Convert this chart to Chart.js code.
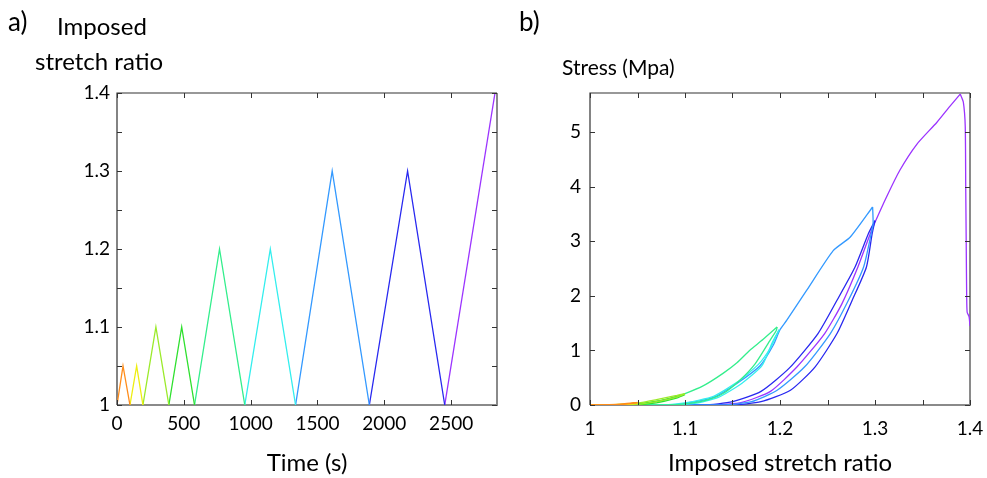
<!DOCTYPE html>
<html><head><meta charset="utf-8">
<script src="https://cdn.jsdelivr.net/npm/chart.js@4/dist/chart.umd.min.js"></script>
<style>
html,body{margin:0;padding:0;background:#fff;width:987px;height:478px;overflow:hidden;font-family:Lato,"Open Sans",sans-serif;}
#c1{position:absolute;left:0;top:0;}
#c2{position:absolute;left:510px;top:0;}
.lbl{position:absolute;color:#000;white-space:nowrap;line-height:1;}
</style></head><body>
<canvas id="c1" width="510" height="478"></canvas>
<canvas id="c2" width="477" height="478"></canvas>
<div class="lbl" style="left:8px;top:8px;font-size:26px;">a)</div>
<div class="lbl" style="left:57px;top:14px;font-size:24px;">Imposed</div>
<div class="lbl" style="left:35px;top:49px;font-size:24px;">stretch ratio</div>
<div class="lbl" style="left:519px;top:8px;font-size:26px;">b)</div>
<div class="lbl" style="left:562px;top:56px;font-size:21px;">Stress (Mpa)</div>
<script>
// ---- panel a: imposed stretch history ----
const timeS = [0,45,97,147,194,291,388,484,580,767,956,1147,1336,1610,1888,2174,2452,2828];
const stretchImposed = [1,1.05,1,1.05,1,1.1,1,1.1,1,1.2,1,1.2,1,1.3,1,1.3,1,1.4];
const cycleColors = ['#FF8C1A','#EEEE10','#9BEA2A','#2EE02E','#33EE8C','#33EEEE','#3399FF','#2828F0','#9B33FF'];
const xTicksA = [0,500,1000,1500,2000,2500];
const yTicksA = [1,1.1,1.2,1.3,1.4];
const yTickMarksA = [1,1.05,1.1,1.15,1.2,1.25,1.3,1.35,1.4];

// ---- panel b: stress vs imposed stretch ratio, per cycle (strain, stress MPa) ----
const c1Load   = [[1.0,0],[1.02,0.005],[1.035,0.02],[1.05,0.05]];
const c1Unload = [[1.05,0.04],[1.04,0.02],[1.03,0.005],[1.015,0],[1.0,0]];
const c2Load   = [[1.0,0],[1.025,0.005],[1.04,0.02],[1.05,0.04]];
const c2Unload = [[1.05,0.03],[1.04,0.01],[1.03,0],[1.0,0]];
const c3Load   = [[1.0,0],[1.02,0],[1.035,0.015],[1.055,0.05],[1.07,0.1],[1.09,0.17],[1.1,0.21]];
const c3Unload = [[1.1,0.2],[1.09,0.14],[1.07,0.06],[1.05,0.01],[1.03,0],[1.0,0]];
const c4Load   = [[1.0,0],[1.03,0],[1.05,0.02],[1.07,0.07],[1.09,0.15],[1.1,0.2]];
const c4Unload = [[1.1,0.19],[1.09,0.12],[1.07,0.04],[1.05,0.005],[1.03,0],[1.0,0]];
const c5Load   = [[1.0,0],[1.05,0.01],[1.08,0.1],[1.1,0.21],[1.12,0.36],[1.14,0.58],[1.155,0.78],[1.168,1.0],[1.182,1.2],[1.197,1.43]];
const c5Unload = [[1.197,1.43],[1.196,1.36],[1.19,1.2],[1.174,0.76],[1.158,0.46],[1.14,0.21],[1.123,0.09],[1.105,0.03],[1.08,0],[1.0,0]];
const c6Load   = [[1.0,0],[1.07,0],[1.1,0.04],[1.13,0.16],[1.155,0.42],[1.177,0.74],[1.19,1.05],[1.199,1.38]];
const c6Unload = [[1.199,1.38],[1.192,1.15],[1.181,0.72],[1.16,0.4],[1.135,0.14],[1.11,0.03],[1.08,0],[1.0,0]];
const c7Load   = [[1.0,0],[1.08,0],[1.1,0.03],[1.13,0.14],[1.155,0.4],[1.179,0.72],[1.193,1.1],[1.2,1.38],[1.207,1.55],[1.228,2.1],[1.256,2.83],[1.274,3.08],[1.2975,3.63]];
const c7Unload = [[1.2975,3.63],[1.298,3.32],[1.296,3.14],[1.288,2.53],[1.272,1.92],[1.253,1.31],[1.226,0.7],[1.197,0.27],[1.17,0.06],[1.14,0],[1.0,0]];
const c8Load   = [[1.0,0],[1.12,0],[1.15,0.06],[1.18,0.25],[1.21,0.68],[1.24,1.31],[1.26,1.92],[1.279,2.53],[1.293,3.14],[1.3,3.38]];
const c8Unload = [[1.3,3.38],[1.297,3.14],[1.291,2.53],[1.276,1.92],[1.26,1.31],[1.237,0.7],[1.211,0.27],[1.18,0.06],[1.15,0],[1.0,0]];
const c9Load   = [[1.0,0],[1.13,0],[1.16,0.05],[1.19,0.25],[1.218,0.7],[1.247,1.31],[1.265,1.85],[1.282,2.53],[1.295,3.14],[1.3,3.35],[1.312,3.81],[1.326,4.3],[1.344,4.78],[1.365,5.18],[1.379,5.48],[1.3897,5.7]];
const c9Fail   = [[1.3897,5.7],[1.393,5.55],[1.395,5.1],[1.3955,4.0],[1.396,3.0],[1.3965,2.0],[1.397,1.7],[1.399,1.62],[1.4,1.45]];
const xTicksB = [1,1.1,1.2,1.3,1.4];
const xTickMarksB = [1,1.05,1.1,1.15,1.2,1.25,1.3,1.35,1.4];
const yTicksB = [0,1,2,3,4,5];

const curvesB = [
  [c1Load,0],[c1Unload,0],[c2Load,1],[c2Unload,1],[c3Load,2],[c3Unload,2],[c4Load,3],[c4Unload,3],
  [c5Load,4],[c5Unload,4],[c6Load,5],[c6Unload,5],[c7Load,6],[c7Unload,6],[c8Load,7],[c8Unload,7],
  [c9Load,8],[c9Fail,8]
];

const FONT = {family:'Lato', size:19};
const TITLEFONT = {family:'Lato', size:24};

function boxTicks(){
  return {
    id:'boxTicks',
    beforeDatasetsDraw(chart){
      const a = chart.chartArea, ctx = chart.ctx;
      ctx.save();
      ctx.lineWidth = 2; ctx.strokeStyle = '#8a8a8a';
      ctx.beginPath(); ctx.moveTo(a.left, a.bottom); ctx.lineTo(a.right, a.bottom); ctx.lineTo(a.right, a.top); ctx.stroke();
      ctx.lineWidth = 1.2; ctx.strokeStyle = '#333';
      ctx.beginPath(); ctx.moveTo(a.left, a.bottom); ctx.lineTo(a.left, a.top); ctx.lineTo(a.right, a.top); ctx.stroke();
      ctx.restore();
    },
    afterDatasetsDraw(chart){
      const a = chart.chartArea, ctx = chart.ctx, L = 5;
      ctx.save(); ctx.lineWidth = 1; ctx.strokeStyle = '#333';
      ctx.beginPath();
      chart.scales.x.ticks.forEach(t=>{
        const px = Math.round(chart.scales.x.getPixelForValue(t.value))+0.5;
        ctx.moveTo(px,a.bottom); ctx.lineTo(px,a.bottom-L);
        ctx.moveTo(px,a.top); ctx.lineTo(px,a.top+L);
      });
      chart.scales.y.ticks.forEach(t=>{
        const py = Math.round(chart.scales.y.getPixelForValue(t.value))+0.5;
        ctx.moveTo(a.left,py); ctx.lineTo(a.left+L,py);
        ctx.moveTo(a.right,py); ctx.lineTo(a.right-L,py);
      });
      ctx.stroke(); ctx.restore();
    }
  };
}

function fmt(v, list){
  for (const m of list){ if (Math.abs(v-m) < 1e-6) return String(m); }
  return '';
}
const setTicks = (arr)=> (s)=>{ s.ticks = arr.map(v=>({value:v})); };
// invisible grid used only to reserve space between the axis and its tick labels
const spacerGrid = (len)=>({display:true,drawOnChartArea:false,drawTicks:true,tickLength:len,color:'rgba(0,0,0,0)'});

// ---- chart a ----
const dsA = [];
for (let i=0;i<9;i++){
  const pts = [];
  for (let k=2*i;k<=Math.min(2*i+2,timeS.length-1);k++) pts.push({x:timeS[k],y:stretchImposed[k]});
  dsA.push({data:pts,borderColor:cycleColors[i],borderWidth:1.3,pointRadius:0,tension:0,fill:false});
}
new Chart(document.getElementById('c1'),{
  type:'line',
  data:{datasets:dsA},
  options:{
    responsive:false,animation:false,
    layout:{padding:{left:0,right:13,top:93,bottom:0}},
    plugins:{legend:{display:false},tooltip:{enabled:false}},
    scales:{
      x:{type:'linear',min:0,max:2843,
         afterBuildTicks:setTicks(xTicksA),
         afterFit(s){s.height=73;},
         grid:spacerGrid(5),border:{display:false},
         ticks:{padding:2,color:'#000',font:FONT,maxRotation:0,autoSkip:false,
                callback:(v)=>fmt(v,xTicksA)},
         title:{display:true,text:'Time (s)',color:'#000',font:TITLEFONT,padding:{top:8,bottom:0}}},
      y:{type:'linear',min:1,max:1.4,
         afterBuildTicks:setTicks(yTickMarksA),
         afterFit(s){s.width=117;},
         grid:{display:false,drawTicks:false},border:{display:false},
         ticks:{padding:7,color:'#000',font:FONT,autoSkip:false,
                callback:(v)=>fmt(v,yTicksA)}}
    }
  },
  plugins:[boxTicks()]
});

// ---- chart b ----
const dsB = curvesB.map(([pts,ci])=>({
  data:pts.map(p=>({x:p[0],y:p[1]})),borderColor:cycleColors[ci],borderWidth:1.3,pointRadius:0,tension:0.2,fill:false
}));
new Chart(document.getElementById('c2'),{
  type:'line',
  data:{datasets:dsB},
  options:{
    responsive:false,animation:false,
    layout:{padding:{left:0,right:17,top:93,bottom:0}},
    plugins:{legend:{display:false},tooltip:{enabled:false}},
    scales:{
      x:{type:'linear',min:1,max:1.4,
         afterBuildTicks:setTicks(xTickMarksB),
         afterFit(s){s.height=73;},
         grid:spacerGrid(10),border:{display:false},
         ticks:{padding:2,color:'#000',font:FONT,maxRotation:0,autoSkip:false,
                callback:(v)=>fmt(v,xTicksB)},
         title:{display:true,text:'Imposed stretch ratio',color:'#000',font:TITLEFONT,padding:{top:8,bottom:0}}},
      y:{type:'linear',min:0,max:5.72,
         afterBuildTicks:setTicks(yTicksB),
         afterFit(s){s.width=80;},
         grid:{display:false,drawTicks:false},border:{display:false},
         ticks:{padding:9,color:'#000',font:FONT,autoSkip:false,
                callback:(v)=>fmt(v,yTicksB)}}
    }
  },
  plugins:[boxTicks()]
});
</script>
</body></html>
